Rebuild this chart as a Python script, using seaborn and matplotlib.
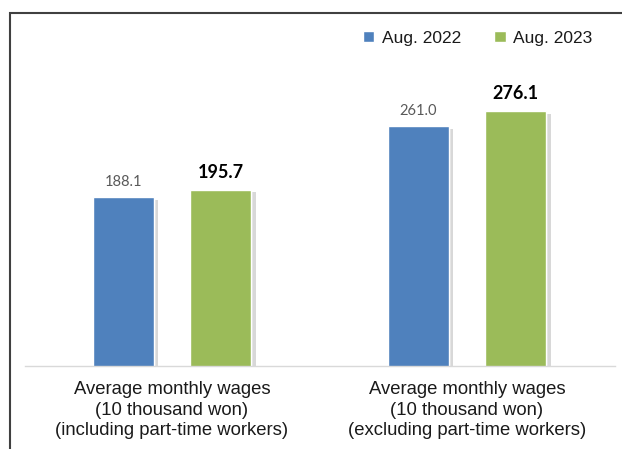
import numpy as np
import pandas as pd
import matplotlib
matplotlib.use('Agg')
import matplotlib.pyplot as plt
import matplotlib.patheffects as pe
from matplotlib.patches import Rectangle
import seaborn as sns

# data
categories = ["Average monthly wages\n(10 thousand won)\n(including part-time workers)",
              "Average monthly wages\n(10 thousand won)\n(excluding part-time workers)"]
periods = ["Aug. 2022", "Aug. 2023"]
wages_2022 = [188.1, 261.0]
wages_2023 = [195.7, 276.1]

df = pd.DataFrame({
    "category": categories * 2,
    "period": [periods[0]] * 2 + [periods[1]] * 2,
    "wage": wages_2022 + wages_2023,
})

sns.set_style("white")
plt.rcParams['font.family'] = ['Liberation Sans Narrow', 'Liberation Sans', 'DejaVu Sans']

fig = plt.figure(figsize=(6.22, 4.49), dpi=100)
# y axis of the original doesn't start at zero (about 15)
ax = fig.add_axes([24.5 / 622, 1 - 366 / 449, 590 / 622, 268.4 / 449])

sns.barplot(data=df, x="category", y="wage", hue="period",
            palette=["#4F81BD", "#9BBB59"], width=0.66, gap=0.37,
            saturation=1, ax=ax, legend=True)

# little drop shadow like the office chart
for bar in ax.patches:
    bar.set_path_effects([pe.withSimplePatchShadow(offset=(3, -2), shadow_rgbFace='#7f7f7f', alpha=0.3),
                          pe.Normal()])

ax.bar_label(ax.containers[0], fmt="%.1f", padding=6, color="#595959",
             fontsize=10.5, family=['Lato', 'DejaVu Sans'])
ax.bar_label(ax.containers[1], fmt="%.1f", padding=6.5, color="black",
             fontsize=13, fontweight="bold", family=['Lato', 'DejaVu Sans'])

ax.set_ylim(15, 290)
ax.set_xlim(-0.5, 1.5)
ax.set_xlabel("")
ax.set_ylabel("")
ax.set_yticks([])
ax.tick_params(axis='x', length=0, pad=11, labelsize=13.3, labelcolor="#1a1a1a")
for lbl in ax.get_xticklabels():
    lbl.set_linespacing(1.25)
ax.set_xticks([-0.5, 0.5, 1.5], minor=True)
ax.tick_params(axis='x', which='minor', length=9, color="#d9d9d9", width=1)
for s in ["left", "top", "right"]:
    ax.spines[s].set_visible(False)
ax.spines["bottom"].set_color("#d9d9d9")
ax.spines["bottom"].set_linewidth(1)

leg = ax.legend(loc="center left", bbox_to_anchor=(363 / 622, 1 - 38 / 449),
                bbox_transform=fig.transFigure, ncol=2, frameon=False,
                fontsize=12.5, handlelength=0.65, handleheight=0.65,
                handletextpad=0.45, columnspacing=1.9,
                borderaxespad=0, borderpad=0)
for h in leg.legend_handles:
    h.set_path_effects([])
for t in leg.get_texts():
    t.set_color("#1a1a1a")

# outer frame, cut off at right and bottom like the picture
fig.patches.append(Rectangle((10 / 622, -0.1), 1.2, 1 - 13 / 449 + 0.1,
                             transform=fig.transFigure, fill=False,
                             edgecolor="#404040", linewidth=1.5))

fig.savefig("out.png", dpi=100)
